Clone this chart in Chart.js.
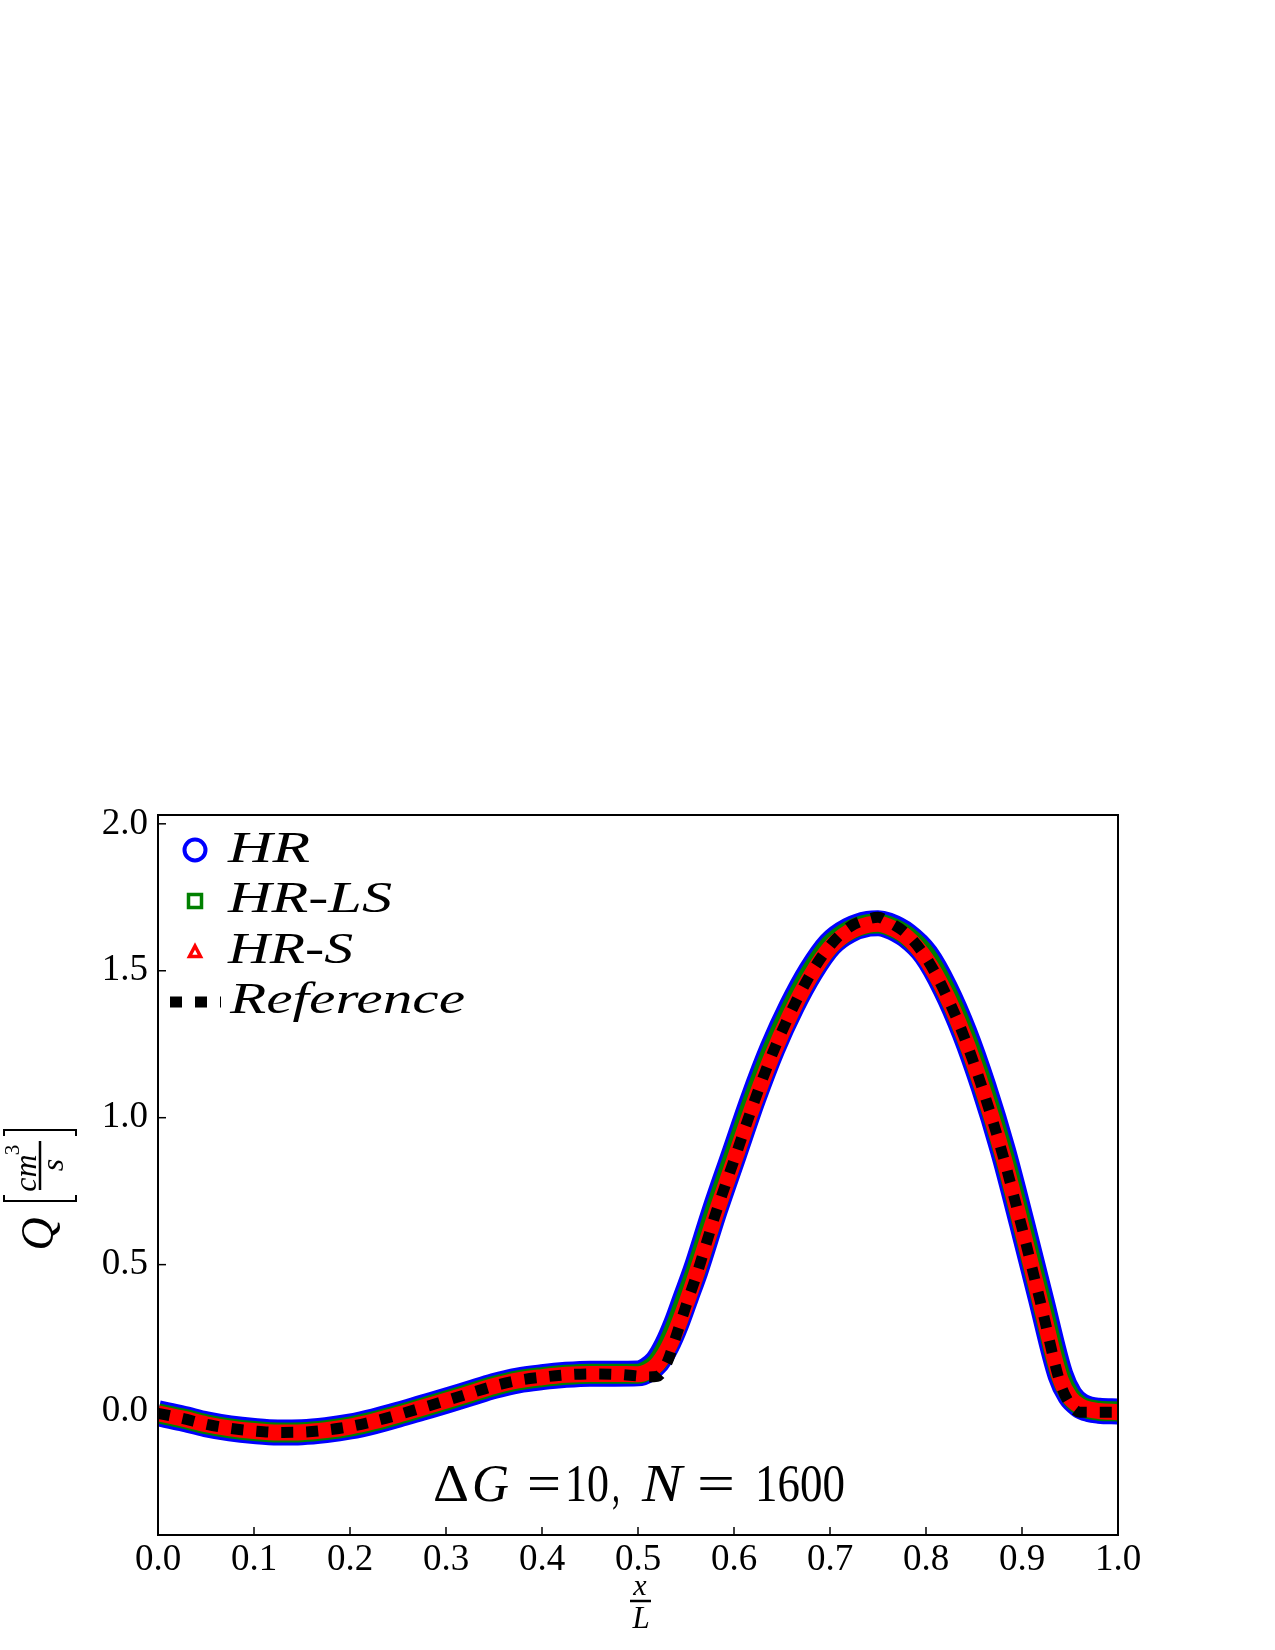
<!DOCTYPE html>
<html><head><meta charset="utf-8">
<script src="https://cdn.jsdelivr.net/npm/chart.js@4.4.1/dist/chart.umd.min.js"></script>
<style>html,body{margin:0;padding:0;background:#fff}canvas{display:block}</style>
</head><body>
<canvas id="c" width="1275" height="1650"></canvas>
<script>
// ---- data ----
const refX = [0,0.025,0.05,0.075,0.1,0.125,0.15,0.175,0.2,0.225,0.25,0.275,0.3,0.325,0.35,0.375,0.4,0.425,0.45,0.475,0.5,0.51,0.52,0.53,0.54,0.55,0.56,0.58,0.6,0.62,0.64,0.66,0.68,0.7,0.72,0.74,0.75,0.76,0.78,0.8,0.82,0.84,0.86,0.88,0.9,0.92,0.94,0.95,0.955,0.96,0.98,1.0];
const refQ = [-0.006,-0.023,-0.043,-0.057,-0.066,-0.071,-0.07,-0.063,-0.051,-0.033,-0.011,0.013,0.037,0.062,0.087,0.106,0.117,0.125,0.128,0.127,0.121,0.118,0.12,0.165,0.26,0.36,0.455,0.665,0.855,1.045,1.218,1.365,1.49,1.585,1.648,1.676,1.682,1.668,1.625,1.545,1.425,1.273,1.087,0.873,0.625,0.362,0.095,0.025,0.006,-0.002,-0.002,-0.002];

const bandX = [0,0.025,0.05,0.075,0.1,0.125,0.15,0.175,0.2,0.225,0.25,0.275,0.3,0.325,0.35,0.375,0.4,0.425,0.45,0.475,0.5,0.51,0.52,0.53,0.54,0.55,0.56,0.58,0.6,0.62,0.64,0.66,0.68,0.7,0.72,0.74,0.75,0.76,0.78,0.8,0.82,0.84,0.86,0.88,0.9,0.92,0.94,0.95,0.96,0.97,0.98,1.0];
const hrQ = [-0.006,-0.023,-0.043,-0.057,-0.066,-0.071,-0.07,-0.063,-0.051,-0.033,-0.011,0.013,0.037,0.062,0.087,0.106,0.117,0.125,0.129,0.129,0.13,0.142,0.17,0.225,0.30,0.39,0.48,0.685,0.875,1.065,1.235,1.378,1.498,1.59,1.638,1.66,1.662,1.655,1.62,1.555,1.44,1.29,1.105,0.89,0.64,0.38,0.125,0.055,0.022,0.008,0.003,0.0];
const hrlsQ = [-0.006,-0.023,-0.043,-0.057,-0.066,-0.071,-0.07,-0.063,-0.051,-0.033,-0.011,0.013,0.037,0.062,0.087,0.106,0.117,0.125,0.129,0.129,0.129,0.141,0.168,0.222,0.298,0.388,0.478,0.683,0.873,1.063,1.233,1.376,1.496,1.588,1.637,1.659,1.661,1.654,1.619,1.553,1.438,1.288,1.103,0.888,0.638,0.378,0.123,0.054,0.021,0.008,0.003,0.0];
const hrsQ = [-0.006,-0.023,-0.043,-0.057,-0.066,-0.071,-0.07,-0.063,-0.051,-0.033,-0.011,0.013,0.037,0.062,0.087,0.106,0.117,0.125,0.128,0.128,0.127,0.136,0.16,0.208,0.278,0.365,0.46,0.662,0.852,1.042,1.213,1.36,1.483,1.578,1.632,1.657,1.66,1.652,1.615,1.54,1.425,1.273,1.087,0.873,0.622,0.362,0.11,0.048,0.02,0.007,0.002,-0.002];

const xTicks = [0,0.1,0.2,0.3,0.4,0.5,0.6,0.7,0.8,0.9,1.0];
const yTicks = [0,0.5,1.0,1.5,2.0];
const seriesNames = ['HR','HR-LS','HR-S','Reference'];
const seriesColors = ['#0000ff','#008000','#ff0000','#000000'];

const pts = (xs, ys) => xs.map((x, i) => ({x: x, y: ys[i]}));

const SERIF = '"Liberation Serif", "Times New Roman", serif';

function fitText(ctx, text, x, y, font, w) {
  ctx.save();
  ctx.font = font;
  const m = ctx.measureText(text).width;
  const s = w ? w / m : 1;
  ctx.translate(x, y);
  ctx.scale(s, 1);
  ctx.textAlign = 'left';
  ctx.textBaseline = 'alphabetic';
  ctx.fillText(text, 0, 0);
  ctx.restore();
}
function rotText(ctx, text, X, Y, font) {
  ctx.save();
  ctx.translate(X, Y);
  ctx.rotate(-Math.PI / 2);
  ctx.font = font;
  ctx.textAlign = 'center';
  ctx.textBaseline = 'alphabetic';
  ctx.fillText(text, 0, 0);
  ctx.restore();
}
function line(ctx, x1, y1, x2, y2, w) {
  ctx.beginPath(); ctx.lineWidth = w; ctx.moveTo(x1, y1); ctx.lineTo(x2, y2); ctx.stroke();
}

const decor = {
  id: 'decor',
  beforeDraw(chart) {
    const ctx = chart.ctx;
    ctx.save(); ctx.fillStyle = '#fff'; ctx.fillRect(0, 0, chart.width, chart.height); ctx.restore();
  },
  afterDraw(chart) {
    const ctx = chart.ctx;
    const a = chart.chartArea;
    const xs = chart.scales.x, ys = chart.scales.y;
    ctx.save();
    ctx.strokeStyle = '#000'; ctx.fillStyle = '#000';
    // frame
    ctx.lineWidth = 2;
    ctx.strokeRect(a.left, a.top, a.right - a.left, a.bottom - a.top);
    // inward ticks
    xTicks.forEach(v => { const p = xs.getPixelForValue(v); line(ctx, p, a.bottom, p, a.bottom - 8, 1.5); });
    yTicks.forEach(v => { const p = ys.getPixelForValue(v); line(ctx, a.left, p, a.left + 8, p, 1.5); });

    // legend
    const lx = 195;
    const rows = [850, 901, 952, 1002];
    ctx.strokeStyle = seriesColors[0]; ctx.lineWidth = 4;
    ctx.beginPath(); ctx.arc(lx, rows[0], 10.5, 0, Math.PI * 2); ctx.stroke();
    ctx.strokeStyle = seriesColors[1]; ctx.lineWidth = 3.5;
    ctx.strokeRect(lx - 6.5, rows[1] - 6.5, 13, 13);
    ctx.strokeStyle = seriesColors[2]; ctx.lineWidth = 3.5;
    ctx.beginPath(); ctx.moveTo(lx, rows[2] - 6); ctx.lineTo(lx + 5.5, rows[2] + 4.5); ctx.lineTo(lx - 5.5, rows[2] + 4.5); ctx.closePath(); ctx.stroke();
    ctx.strokeStyle = seriesColors[3]; ctx.lineWidth = 11; ctx.setLineDash([12, 13]); ctx.lineCap = 'butt';
    ctx.beginPath(); ctx.moveTo(170, rows[3]); ctx.lineTo(221, rows[3]); ctx.stroke();
    ctx.setLineDash([]);
    ctx.fillStyle = '#000';
    const lf = 'italic 45px ' + SERIF;
    fitText(ctx, seriesNames[0], 228, 862, lf, 82);
    fitText(ctx, seriesNames[1], 228, 912, lf, 164);
    fitText(ctx, seriesNames[2], 228, 963, lf, 125);
    fitText(ctx, seriesNames[3], 230, 1013, lf, 235);

    // annotation
    const af = '52px ' + SERIF, ai = 'italic 52px ' + SERIF;
    const by = 1501;
    fitText(ctx, '\u0394', 433, by, af, 36);
    fitText(ctx, 'G', 472, by, ai, 37);
    fitText(ctx, '=', 527, by, af, 34);
    fitText(ctx, '10', 565, by, af, 44);
    fitText(ctx, ',', 612, by, af, 8);
    fitText(ctx, 'N', 642, by, ai, 40);
    fitText(ctx, '=', 697, by, af, 38);
    fitText(ctx, '1600', 755, by, af, 90);

    // y axis title: Q [cm^3 / s]
    rotText(ctx, 'Q', 53, 1234, 'italic 46px ' + SERIF);
    ctx.strokeStyle = '#000';
    line(ctx, 3, 1201, 77, 1201, 2); line(ctx, 4, 1201, 4, 1195, 2); line(ctx, 76, 1201, 76, 1195, 2);
    line(ctx, 3, 1130, 77, 1130, 2); line(ctx, 4, 1130, 4, 1136, 2); line(ctx, 76, 1130, 76, 1136, 2);
    line(ctx, 40, 1141, 40, 1190, 2.5);
    rotText(ctx, 'cm', 36, 1173, 'italic 32px ' + SERIF);
    rotText(ctx, '3', 19, 1150, '21px ' + SERIF);
    rotText(ctx, 's', 63, 1165, 'italic 32px ' + SERIF);

    // x axis title: x / L
    ctx.textAlign = 'center'; ctx.textBaseline = 'alphabetic';
    ctx.font = 'italic 30px ' + SERIF;
    ctx.fillText('x', 640, 1595);
    line(ctx, 630, 1601, 651, 1601, 2.5);
    ctx.font = 'italic 31px ' + SERIF;
    ctx.fillText('L', 641, 1628);
    ctx.restore();
  }
};

const tickFont = {family: SERIF, size: 37};

new Chart(document.getElementById('c'), {
  type: 'scatter',
  data: {
    datasets: [
      {label: seriesNames[0], data: pts(bandX, hrQ), showLine: true, pointRadius: 0, borderColor: seriesColors[0], borderWidth: 26, cubicInterpolationMode: 'monotone', borderJoinStyle: 'round', borderCapStyle: 'butt', clip: 0, order: 4},
      {label: seriesNames[1], data: pts(bandX, hrlsQ), showLine: true, pointRadius: 0, borderColor: seriesColors[1], borderWidth: 20, cubicInterpolationMode: 'monotone', borderJoinStyle: 'round', borderCapStyle: 'butt', clip: 0, order: 3},
      {label: seriesNames[2], data: pts(bandX, hrsQ), showLine: true, pointRadius: 0, borderColor: seriesColors[2], borderWidth: 16, cubicInterpolationMode: 'monotone', borderJoinStyle: 'round', borderCapStyle: 'butt', clip: 0, order: 2},
      {label: seriesNames[3], data: pts(refX, refQ), showLine: true, pointRadius: 0, borderColor: seriesColors[3], borderWidth: 11, borderDash: [12, 13], cubicInterpolationMode: 'monotone', borderCapStyle: 'butt', clip: 0, order: 1}
    ]
  },
  options: {
    responsive: false,
    animation: false,
    devicePixelRatio: 1,
    layout: {padding: {top: 815, right: 157, left: 0, bottom: 0}},
    plugins: {legend: {display: false}, tooltip: {enabled: false}},
    scales: {
      x: {
        type: 'linear', min: 0, max: 1,
        grid: {display: false, drawTicks: false},
        border: {display: false},
        ticks: {font: tickFont, color: '#000', padding: 3, maxRotation: 0, callback: v => Number(v).toFixed(1)},
        afterBuildTicks: s => { s.ticks = xTicks.map(v => ({value: v})); },
        afterFit: s => { s.height = 115; }
      },
      y: {
        type: 'linear', min: -0.42, max: 2.03,
        grid: {display: false, drawTicks: false},
        border: {display: false},
        ticks: {font: tickFont, color: '#000', padding: 10, callback: v => Number(v).toFixed(1)},
        afterBuildTicks: s => { s.ticks = yTicks.map(v => ({value: v})); },
        afterFit: s => { s.width = 158; }
      }
    }
  },
  plugins: [decor]
});
</script>
</body></html>
